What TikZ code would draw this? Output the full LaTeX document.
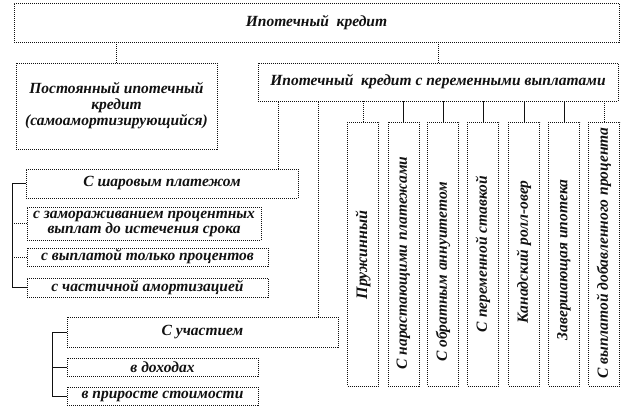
\documentclass[tikz,border=0pt]{standalone}
\usepackage{fontspec}
\setmainfont{Liberation Serif}
\usetikzlibrary{positioning,calc}
\definecolor{border}{HTML}{111111}
\definecolor{textCol}{HTML}{111111}
\tikzset{
  mainbox/.style={
    rectangle, draw=border, dash pattern=on 1pt off 1pt, line width=0.6pt,
    align=center, inner sep=1pt, text=textCol,
    font=\fontsize{15.5}{16}\selectfont\bfseries\itshape,
  },
  colbox/.style={
    mainbox, minimum width=31pt, minimum height=264pt,
  },
  coltext/.style={
    rotate=90, inner sep=0pt, text=textCol,
    font=\fontsize{15.5}{16}\selectfont\bfseries\itshape,
  },
  conn/.style={border, line width=0.6pt},
  dconn/.style={conn, dash pattern=on 1pt off 1pt},
}

\begin{document}
\begin{tikzpicture}[x=1pt, y=-1pt]
  \useasboundingbox (0,0) rectangle (628,408);

  % Top level
  \node[mainbox, minimum width=605pt, minimum height=39pt] (credit) at (316.5,22.5) {Ипотечный\ \ кредит};
  \node[mainbox, minimum width=201pt, minimum height=86pt] (const) at (116.5,106) {Постоянный ипотечный\\кредит\\(самоамортизирующийся)};
  \node[mainbox, minimum width=360pt, minimum height=38pt] (var) at (438,82) {Ипотечный\ \ кредит с переменными выплатами};

  \draw[dconn] (credit.south -| const.north) -- (const.north);
  \draw[dconn] (var.north |- credit.south) -- (var.north);

  % Balloon payment
  \node[mainbox, minimum width=272pt, minimum height=29pt] (balloon) at (162,183.5) {С шаровым платежом};
  \node[mainbox, minimum width=234pt, minimum height=33pt, inner sep=0pt, font=\fontsize{15.5}{15}\selectfont\bfseries\itshape] (frz) at (144,223.5) {с замораживанием процентных\\выплат до истечения срока};
  \node[mainbox, minimum width=241pt, minimum height=18pt, inner sep=0pt] (intonly) at (147.5,257) {с выплатой только процентов};
  \node[mainbox, minimum width=241pt, minimum height=19pt, inner sep=0pt] (partam) at (147.5,287.5) {с частичной амортизацией};

  \coordinate (bl) at (12,0);
  \draw[conn] (balloon.west) -- (balloon.west -| bl) -- (partam.west -| bl) -- (partam.west);
  \draw[dconn] (frz.west -| bl) -- (frz.west);
  \draw[dconn] (intonly.west -| bl) -- (intonly.west);

  % Participation
  \node[mainbox, minimum width=271pt, minimum height=30pt] (part) at (202.5,332) {С участием};
  \node[mainbox, minimum width=191pt, minimum height=18pt, inner sep=0pt] (inc) at (162.5,367) {в доходах};
  \node[mainbox, minimum width=191pt, minimum height=18pt, inner sep=0pt] (gain) at (162.5,396) {в приросте стоимости};

  \coordinate (pl) at (52,0);
  \draw[conn] (part.west) -- (part.west -| pl) -- (gain.west -| pl) -- (gain.west);
  \draw[conn] (inc.west -| pl) -- (inc.west);

  \draw[dconn] ([xshift=-20pt]balloon.north east) -- ([xshift=-20pt]balloon.north east |- var.south);
  \draw[dconn] ([xshift=-20pt]part.north east) -- ([xshift=-20pt]part.north east |- var.south);

  % Columns
  \node[colbox] (c1) at (363,254) {};
  \node[colbox] (c2) at (403.5,254) {};
  \node[colbox] (c3) at (443,254) {};
  \node[colbox] (c4) at (483,254) {};
  \node[colbox] (c5) at (524,254) {};
  \node[colbox] (c6) at (564,254) {};
  \node[colbox] (c7) at (604,254) {};

  \node[coltext, font=\fontsize{16}{17}\selectfont\bfseries\itshape] (t1) at (363,255) {Пружинный};
  \node[coltext] (t2) at (403.5,263) {С нарастающими платежами};
  \node[coltext] (t3) at (443,272) {С обратным аннуитетом};
  \node[coltext] (t4) at (483,254) {С переменной ставкой};
  \node[coltext] (t5) at (524,252) {Канадский ролл-овер};
  \node[coltext] (t6) at (564,260) {Завершающая ипотека};
  \node[coltext] (t7) at (604,253) {С выплатой добавленного процента};

  \draw[dconn] (c1.north) -- (c1.north |- var.south);
  \foreach \c in {c2,c3,c4,c5,c6}
    \draw[conn] (\c.north) -- (\c.north |- var.south);
  \draw[dconn] (c7.north) -- (c7.north |- var.south);

\end{tikzpicture}
\end{document}
